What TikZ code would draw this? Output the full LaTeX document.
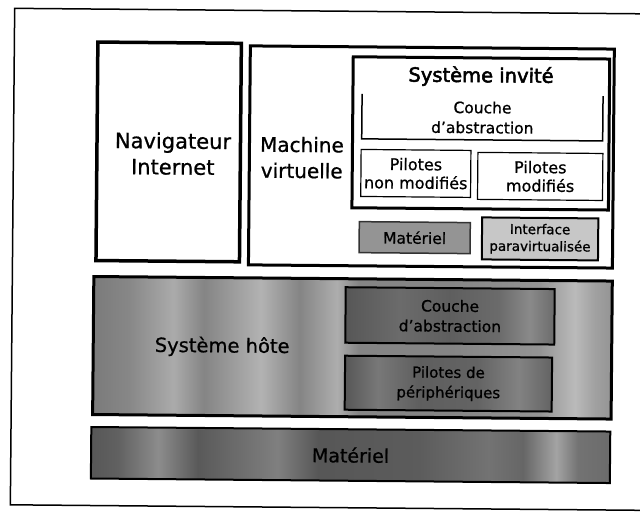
\documentclass[tikz,border=0pt]{standalone}
\usepackage{tikz}
\usepackage{fontspec}
\setmainfont[FakeBold=0.8]{DejaVu Sans}
\newfontfamily\fakebold[FakeBold=2.6]{DejaVu Sans}
\pgfdeclarehorizontalshading{hostshade}{100bp}{color(0bp)=(black!52); color(25bp)=(black!52); color(28.5bp)=(black!47); color(32.8bp)=(black!33); color(35.7bp)=(black!48); color(41.2bp)=(black!30); color(44.9bp)=(black!48); color(48.5bp)=(black!32); color(50.6bp)=(black!48); color(59.3bp)=(black!48); color(68bp)=(black!42); color(71.4bp)=(black!27); color(73.3bp)=(black!37); color(75bp)=(black!42); color(100bp)=(black!42)}
\pgfdeclarehorizontalshading{hcshade}{100bp}{color(0bp)=(black!66); color(25bp)=(black!66); color(37.9bp)=(black!58); color(49.9bp)=(black!63); color(61.8bp)=(black!58); color(69bp)=(black!46); color(75bp)=(black!58); color(100bp)=(black!58)}
\pgfdeclarehorizontalshading{hpshade}{100bp}{color(0bp)=(black!66); color(25bp)=(black!66); color(33bp)=(black!53); color(43bp)=(black!63); color(57bp)=(black!61); color(67bp)=(black!49); color(75bp)=(black!61); color(100bp)=(black!61)}
\pgfdeclarehorizontalshading{botshade}{100bp}{color(0bp)=(black!66); color(25bp)=(black!66); color(27.6bp)=(black!62); color(31.5bp)=(black!45); color(35.3bp)=(black!65); color(43bp)=(black!50); color(46.9bp)=(black!66); color(56.5bp)=(black!64); color(63.3bp)=(black!55); color(66.6bp)=(black!60); color(69.8bp)=(black!36); color(71.9bp)=(black!55); color(75bp)=(black!58); color(100bp)=(black!58)}
\begin{document}
\begin{tikzpicture}[x=1pt,y=-1pt,
  blk/.style={anchor=north west, inner sep=0pt, outer sep=0pt, draw=black, align=center},
  lbl/.style={inner sep=0pt, align=center},
  bigfont/.style={font=\fontsize{20}{26}\selectfont},
  smallfont/.style={font=\fontsize{15.5}{20}\selectfont}]
\useasboundingbox (0,0) rectangle (640,514);
\fill[white] (0,0) rectangle (640,514);
\begin{scope}[rotate around={-0.5:(320,257)}, transform shape]
% outer frame
\draw[line width=1.5pt] (660,11) -- (12.5,11) -- (12.5,507.5) -- (660,507.5);
% browser
\node[blk, line width=3.5pt, minimum width=143.5pt, minimum height=218.5pt] (nav) at (96,44) {};
\node[lbl, font=\fontsize{21}{26}\selectfont] (navt) at (172,155) {Navigateur\\Internet};
% virtual machine
\node[blk, line width=3pt, minimum width=364pt, minimum height=219pt] (vm) at (248.5,46.5) {};
\node[lbl, bigfont, anchor=north] (vmt) at (301,136.8) {Machine\\virtuelle};
% guest system
\node[blk, line width=3pt, minimum width=256.5pt, minimum height=151pt] (guest) at (351.5,56.5) {};
\node[lbl, anchor=north, font=\fakebold\fontsize{19.5}{24}\selectfont] (guestt) at (479.5,65) {Système invité};
\node[blk, draw=none, minimum width=241pt, minimum height=44.9pt, smallfont] (gcouche) at (360.7,93.6) {Couche\\d'abstraction};
\draw[line width=1.5pt] (gcouche.north west) -- (gcouche.south west) -- (gcouche.south east) -- (gcouche.north east);
\node[blk, line width=1.2pt, minimum width=109.8pt, minimum height=47pt, font=\fontsize{16}{18.5}\selectfont] (pnm) at (360.2,149.1) {Pilotes\\non modifiés};
\node[blk, line width=1.2pt, minimum width=125pt, minimum height=47pt, font=\fontsize{16}{18.5}\selectfont] (pm) at (477,151) {Pilotes\\modifiés};
\node[blk, line width=1.5pt, draw=black!80, fill=black!42, minimum width=111pt, minimum height=31pt, smallfont] (vmat) at (359,221.3) {Matériel};
\node[blk, line width=2pt, fill=black!22, minimum width=116.2pt, minimum height=42pt, font=\fontsize{13.5}{17}\selectfont] (pv) at (481.8,216) {Interface\\paravirtualisée};
% host system
\node[blk, line width=3pt, shading=hostshade, minimum width=518.5pt, minimum height=138pt] (host) at (94,278.5) {};
\node[lbl, anchor=north, font=\fontsize{19.5}{24}\selectfont] (hostt) at (223,337.5) {Système hôte};
\node[blk, line width=2pt, shading=hcshade, minimum width=209pt, minimum height=55.5pt, smallfont] (hcouche) at (346,287) {Couche\\d'abstraction};
\node[blk, line width=2pt, shading=hpshade, minimum width=207pt, minimum height=54pt, font=\fontsize{15}{20}\selectfont] (hpil) at (346,355.5) {Pilotes de\\périphériques};
% hardware
\node[blk, line width=2pt, shading=botshade, minimum width=519pt, minimum height=51.5pt, font=\fontsize{19}{24}\selectfont] (hw) at (92.8,429) {Matériel};
\end{scope}
\end{tikzpicture}
\end{document}
